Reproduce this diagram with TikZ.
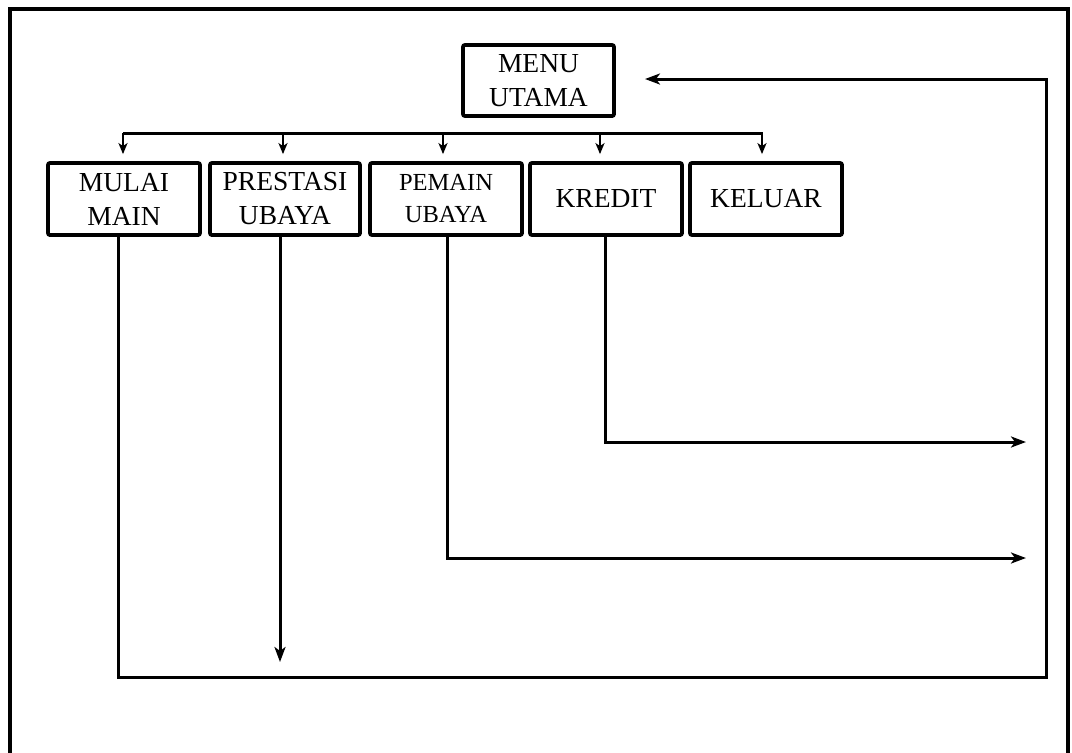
\documentclass[tikz,border=0pt]{standalone}
\usepackage{fontspec}
\setmainfont{Liberation Serif}
\usetikzlibrary{arrows.meta}
\begin{document}
\begin{tikzpicture}[x=1pt,y=-1pt,
  menubox/.style={draw=black,line width=3.8pt,rounded corners=2pt,align=center,
    inner sep=0pt,minimum height=71pt,font=\fontsize{27.5}{34}\selectfont},
  arr/.style={line width=3pt,-{Stealth[length=15pt,width=11pt,inset=4pt]}},
  link/.style={line width=3pt},
  tick/.style={line width=2.2pt,-{Stealth[length=11pt,width=9pt,inset=3pt]}}]
\useasboundingbox (0,0) rectangle (1072,753);
\fill[white] (0,0) rectangle (1072,753);
% frame (open at the bottom)
\draw[line width=3.2pt] (10,753) -- (10,9) -- (1068,9) -- (1068,753);
% nodes
\node[menubox,minimum width=151pt] (menu) at (538.5,80.5) {MENU\\UTAMA};
\node[menubox,minimum width=152pt,minimum height=72pt] (mulai) at (124,199) {MULAI\\MAIN};
\node[menubox,minimum width=150pt,minimum height=72pt] (prestasi) at (285,199) {PRESTASI\\UBAYA};
\node[menubox,minimum width=152pt,minimum height=72pt,font=\fontsize{24.5}{32}\selectfont] (pemain) at (446,199) {PEMAIN\\UBAYA};
\node[menubox,minimum width=152pt,minimum height=72pt] (kredit) at (606,199) {KREDIT};
\node[menubox,minimum width=152pt,minimum height=72pt] (keluar) at (766,199) {KELUAR};
% distribution bus
\coordinate (busl) at (123,133);
\coordinate (busr) at (763,133);
\draw[link] (busl) -- (busr);
\foreach \n/\dx in {mulai/-1,prestasi/-2,pemain/-3,kredit/-6,keluar/-4}{
  \draw[tick] ([xshift=\dx pt]\n.north |- busl) -- ([xshift=\dx pt,yshift=7pt]\n.north);
}
% return loop from MULAI MAIN to MENU UTAMA
\coordinate (bl) at (118,677);
\coordinate (br) at (1046,677);
\coordinate (tr) at (1046,79);
\coordinate (menuin) at (645,79);
\draw[arr] ([xshift=-6pt]mulai.south) -- (bl) -- (br) -- (tr) -- (menuin);
% PRESTASI UBAYA
\coordinate (pend) at (280,662);
\draw[arr] ([xshift=-5pt]prestasi.south) -- (pend);
% PEMAIN UBAYA
\coordinate (pemc) at (447,558);
\coordinate (pemend) at (1026,558);
\draw[arr] ([xshift=1pt]pemain.south) -- (pemc) -- (pemend);
% KREDIT
\coordinate (krc) at (605,442);
\coordinate (krend) at (1026,442);
\draw[arr] ([xshift=-1pt]kredit.south) -- (krc) -- (krend);
\end{tikzpicture}
\end{document}
